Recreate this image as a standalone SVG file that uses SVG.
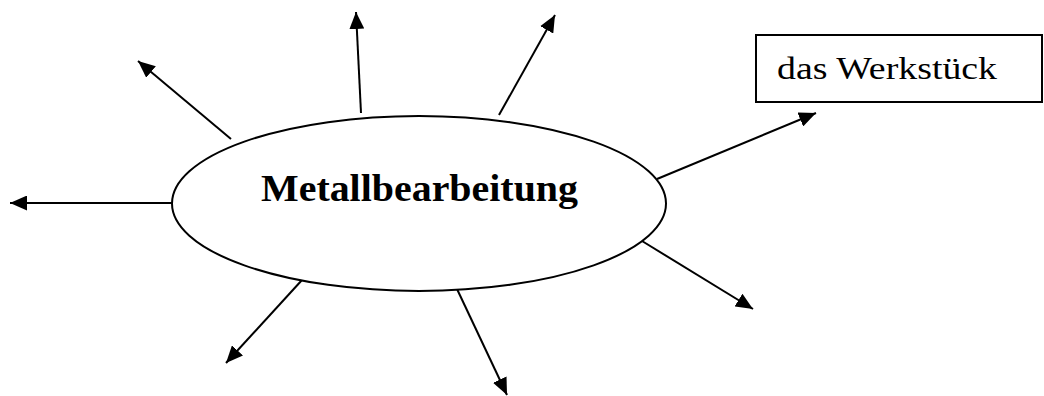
<svg xmlns="http://www.w3.org/2000/svg" width="1044" height="396" viewBox="0 0 1044 396">
<style>
.edge{stroke:#000;stroke-width:2;fill:none;marker-end:url(#ah)}
.shape{stroke:#000;stroke-width:2;fill:#fff}
.t1{font-family:"Liberation Serif",serif;font-weight:bold;font-size:37px;fill:#000}
.t2{font-family:"Liberation Serif",serif;font-size:32px;fill:#000}
</style>
<defs>
<marker id="ah" markerUnits="userSpaceOnUse" markerWidth="17" markerHeight="15" refX="17" refY="7.5" orient="auto">
<path d="M0,0 L17,7.5 L0,15 Z" fill="#000"/>
</marker>
</defs>
<rect width="1044" height="396" fill="#fff"/>
<g id="connectors">
<line class="edge" x1="231" y1="139" x2="138" y2="61"/>
<line class="edge" x1="361" y1="113" x2="356" y2="12"/>
<line class="edge" x1="499" y1="115" x2="555" y2="15"/>
<line class="edge" x1="657" y1="179" x2="816" y2="113"/>
<line class="edge" x1="172" y1="203" x2="10" y2="203"/>
<line class="edge" x1="642" y1="241" x2="753" y2="309"/>
<line class="edge" x1="457" y1="289" x2="507" y2="395"/>
<line class="edge" x1="302" y1="280" x2="226" y2="363"/>
</g>
<g id="center">
<ellipse class="shape" cx="419" cy="203.5" rx="247" ry="87.5"/>
<text class="t1" x="261" y="201" textLength="317" lengthAdjust="spacingAndGlyphs">Metallbearbeitung</text>
</g>
<g id="werkstueck">
<rect class="shape" x="756" y="35" width="286" height="67"/>
<text class="t2" x="777" y="79" textLength="220" lengthAdjust="spacingAndGlyphs">das Werkstück</text>
</g>
</svg>
